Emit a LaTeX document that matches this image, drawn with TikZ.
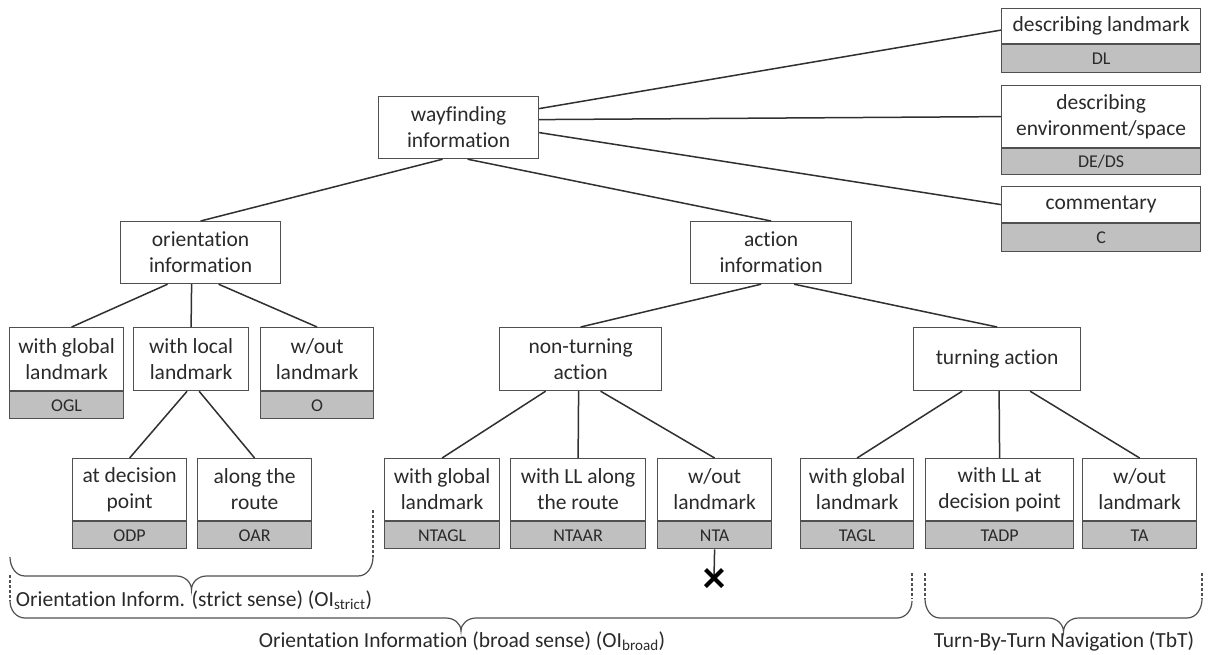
\documentclass[tikz,border=0pt]{standalone}
\usepackage{fontspec}
\setmainfont{Carlito}[Ligatures=NoCommon]
\usetikzlibrary{shapes.misc}
\definecolor{boxc}{HTML}{505050}
\definecolor{linec}{HTML}{303030}
\definecolor{tagc}{HTML}{C0C0C0}
\definecolor{txt}{HTML}{2A2A2A}
\newcommand{\bracepath}[5]{% x1 x2 ytop yflat ytip
  \pgfmathsetmacro\bxa{#1+15}%
  \pgfmathsetmacro\bxm{(#1+#2)/2}%
  \pgfmathsetmacro\bxml{\bxm-15}%
  \pgfmathsetmacro\bxmr{\bxm+15}%
  \pgfmathsetmacro\bxb{#2-15}%
  \draw[bline] (#1,#3) to[out=-90,in=180] (\bxa,#4) -- (\bxml,#4)
    to[out=0,in=90] (\bxm,#5) to[out=90,in=180] (\bxmr,#4)
    -- (\bxb,#4) to[out=0,in=-90] (#2,#3);}
\begin{document}
\begin{tikzpicture}[x=1pt,y=-1pt,
  box/.style={draw=boxc, fill=white, line width=1.2pt, align=center, inner sep=0pt,
    anchor=north west, text=txt, font=\fontsize{21.5}{26}\selectfont},
  tag/.style={draw=boxc, fill=tagc, line width=1.2pt, inner sep=0pt,
    anchor=north west, text=txt, font=\fontsize{18}{20}\selectfont},
  conn/.style={draw=linec, line width=1.5pt},
  bline/.style={draw=boxc, line width=1.2pt},
  dline/.style={draw=boxc, line width=1.2pt, dash pattern=on 3pt off 2pt},
  lbl/.style={text=txt, font=\fontsize{21.5}{26}\selectfont, inner sep=0pt}]
\fill[white] (0,0) rectangle (1209,654);
\useasboundingbox (0,0) rectangle (1209,654);

% top
\node[box, minimum width=160pt, minimum height=62pt] (wf) at (378,96) {wayfinding\\information};
\node[box, minimum width=199pt, minimum height=35pt] (dl) at (1001,8) {describing landmark};
\node[tag, minimum width=199pt, minimum height=28pt] (dlt) at (dl.south west) {DL};
\node[box, minimum width=199pt, minimum height=62pt] (de) at (1001,85) {describing\\environment/space};
\node[tag, minimum width=199pt, minimum height=26pt] (det) at (de.south west) {DE/DS};
\node[box, minimum width=199pt, minimum height=36pt] (cm) at (1001,186) {commentary};
\node[tag, minimum width=199pt, minimum height=28pt] (cmt) at (cm.south west) {C};

% level 2
\node[box, minimum width=160pt, minimum height=62pt] (oi) at (120,221) {orientation\\information};
\node[box, minimum width=161pt, minimum height=62pt] (ai) at (690,221) {action\\information};

% level 3
\node[box, minimum width=114pt, minimum height=63pt] (ogl) at (9,327) {with global\\landmark};
\node[tag, minimum width=114pt, minimum height=27pt] (oglt) at (ogl.south west) {OGL};
\node[box, minimum width=115pt, minimum height=63pt] (oll) at (133,327) {with local\\landmark};
\node[box, minimum width=113pt, minimum height=63pt] (o) at (260,327) {w/out\\landmark};
\node[tag, minimum width=113pt, minimum height=27pt] (ot) at (o.south west) {O};
\node[box, minimum width=162pt, minimum height=63pt] (nt) at (499,327) {non-turning\\action};
\node[box, minimum width=167pt, minimum height=63pt] (tu) at (913,327) {turning action};

% level 4
\node[box, minimum width=114pt, minimum height=62pt] (odp) at (72,458) {at decision\\point};
\node[tag, minimum width=114pt, minimum height=27pt] (odpt) at (odp.south west) {ODP};
\node[box, minimum width=114pt, minimum height=62pt] (oar) at (197,458) {along the\\route};
\node[tag, minimum width=114pt, minimum height=27pt] (oart) at (oar.south west) {OAR};
\node[box, minimum width=115pt, minimum height=62pt] (ntagl) at (384,458) {with global\\landmark};
\node[tag, minimum width=115pt, minimum height=27pt] (ntaglt) at (ntagl.south west) {NTAGL};
\node[box, minimum width=135pt, minimum height=62pt] (ntaar) at (510,458) {with LL along\\the route};
\node[tag, minimum width=135pt, minimum height=27pt] (ntaart) at (ntaar.south west) {NTAAR};
\node[box, minimum width=114pt, minimum height=62pt] (nta) at (657,458) {w/out\\landmark};
\node[tag, minimum width=114pt, minimum height=27pt] (ntat) at (nta.south west) {NTA};
\node[box, minimum width=113pt, minimum height=62pt] (tagl) at (800,458) {with global\\landmark};
\node[tag, minimum width=113pt, minimum height=27pt] (taglt) at (tagl.south west) {TAGL};
\node[box, minimum width=148pt, minimum height=62pt] (tadp) at (925,458) {with LL at\\decision point};
\node[tag, minimum width=148pt, minimum height=27pt] (tadpt) at (tadp.south west) {TADP};
\node[box, minimum width=114pt, minimum height=62pt] (ta) at (1082,458) {w/out\\landmark};
\node[tag, minimum width=114pt, minimum height=27pt] (tat) at (ta.south west) {TA};

% connectors
\draw[conn] ([xshift=-16pt]wf.south) -- (oi.north);
\draw[conn] ([xshift=9pt]wf.south) -- (ai.north);
\draw[conn] ([yshift=19pt]wf.east) -- ([yshift=-4pt]dl.west);
\draw[conn] ([yshift=8pt]wf.east) -- (de.west);
\draw[conn] ([yshift=-5pt]wf.east) -- (cm.west);
\draw[conn] ([xshift=-33pt]oi.south) -- ([xshift=5pt]ogl.north);
\draw[conn] ([xshift=-9pt]oi.south) -- (oll.north);
\draw[conn] ([xshift=18pt]oi.south) -- (o.north);
\draw[conn] ([xshift=-4pt]oll.south) -- (odp.north);
\draw[conn] ([xshift=8pt]oll.south) -- (oar.north);
\draw[conn] ([xshift=-10pt]ai.south) -- (nt.north);
\draw[conn] ([xshift=23pt]ai.south) -- (tu.north);
\draw[conn] ([xshift=-35pt]nt.south) -- (ntagl.north);
\draw[conn] ([xshift=-2pt]nt.south) -- (ntaar.north);
\draw[conn] ([xshift=20pt]nt.south) -- (nta.north);
\draw[conn] ([xshift=-35pt]tu.south) -- (tagl.north);
\draw[conn] ([xshift=2pt]tu.south) -- (tadp.north);
\draw[conn] ([xshift=33pt]tu.south) -- (ta.north);

% X mark
\coordinate (xm) at (714,578);
\draw[conn] (ntat.south) -- (xm);
\node[cross out, draw=black, line width=4pt, minimum size=13pt, inner sep=0pt] (xmark) at (xm) {};

% braces
\draw[dline] (373,510) -- (373,557);
\bracepath{10}{373}{557}{576}{590}
\draw[dline] (10,575) -- (10,601);
\draw[dline] (912,573) -- (912,599);
\bracepath{10}{912}{601}{618}{631}
\draw[dline] (925,573) -- (925,599);
\draw[dline] (1202,573) -- (1202,599);
\bracepath{925}{1202}{599}{618}{632}

\node[lbl] (lstrict) at (194,600) {Orientation Inform. (strict sense) (OI\textsubscript{strict})};
\node[lbl] (lbroad) at (462,641) {Orientation Information (broad sense) (OI\textsubscript{broad})};
\node[lbl] (ltbt) at (1064,641) {Turn-By-Turn Navigation (TbT)};
\end{tikzpicture}
\end{document}
